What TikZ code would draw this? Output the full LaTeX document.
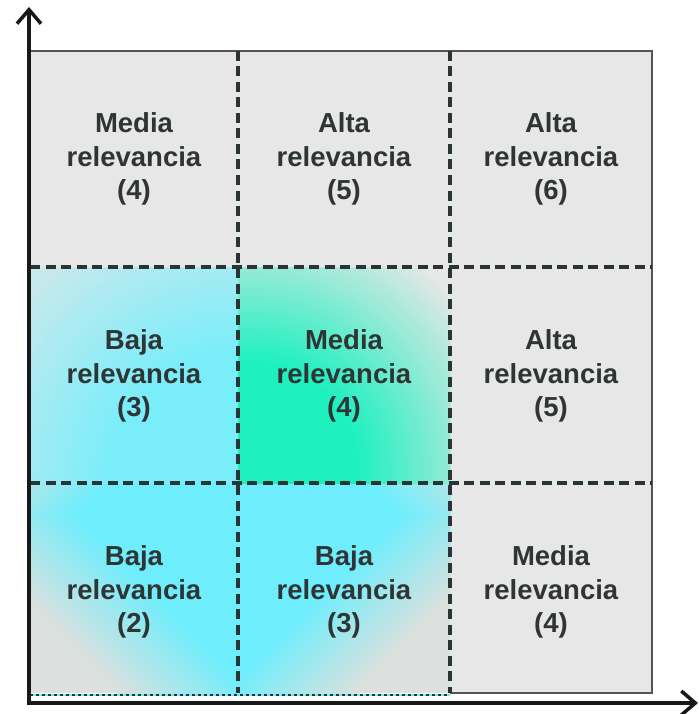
\documentclass[tikz,border=0pt]{standalone}
\usepackage{fontspec}
\setmainfont{Liberation Sans}
\usetikzlibrary{arrows.meta}
\definecolor{cellgray}{HTML}{E7E7E7}
\definecolor{lowgray}{HTML}{DCE0DE}
\definecolor{blobcyan}{HTML}{6EEEFC}
\definecolor{blobgreen}{HTML}{1EF0C0}
\definecolor{txtgray}{HTML}{2F3535}
\definecolor{linegray}{HTML}{555555}
\definecolor{dashgray}{HTML}{2B3434}
\tikzset{
  celltext/.style={align=center, text=txtgray, inner sep=0pt,
    font=\bfseries\fontsize{27.5}{33.5}\selectfont},
  gridline/.style={draw=dashgray, line width=3.2pt, dash pattern=on 10pt off 5.5pt},
  boxline/.style={draw=linegray, line width=1.8pt},
  axisline/.style={draw=black!90, line width=3.5pt, line join=miter,
    arrows={Straight Barb[length=14pt,width=24pt]-Straight Barb[length=14pt,width=24pt]}},
}
\begin{document}
\begin{tikzpicture}[x=1pt,y=-1pt]
\useasboundingbox (0,0) rectangle (698,714);
% background
\fill[white] (0,0) rectangle (698,714);
\fill[cellgray] (30,51) rectangle (652,693);
\fill[lowgray] (30,483) rectangle (450,693);
% cyan blob, lower row
\begin{scope}
  \clip (30,483) rectangle (450,693);
  \foreach \k in {0,...,34} {
    \pgfmathtruncatemacro\r{300-4*\k}
    \pgfmathtruncatemacro\p{100*\k/34}
    \fill[blobcyan!\p!lowgray] (238,515-\r) -- (238+\r,515) -- (238,515+\r) -- (238-\r,515) -- cycle;
  }
\end{scope}
% cyan blob, upper-left cell
\begin{scope}
  \clip (30,267) rectangle (238,483);
  \foreach \k in {0,...,36} {
    \pgfmathtruncatemacro\r{350-6*\k}
    \pgfmathtruncatemacro\p{90*\k/36}
    \fill[blobcyan!\p!cellgray] (238,483) circle (\r);
  }
\end{scope}
% green blob, centre cell
\begin{scope}
  \clip (238,267) rectangle (450,483);
  \foreach \k in {0,...,40} {
    \pgfmathtruncatemacro\r{270-4*\k}
    \pgfmathtruncatemacro\p{100*\k/40}
    \fill[blobgreen!\p!cellgray] (250,470) circle (\r);
  }
\end{scope}
% outer border
\draw[boxline] (450,693) -- (652,693) -- (652,51) -- (30,51);
\draw[blobcyan, line width=2pt] (30,695) -- (450,695);
\draw[dashgray, line width=2pt, dash pattern=on 3pt off 3pt] (30,695) -- (450,695);
% grid
\coordinate (vt1) at (238,51);  \coordinate (vb1) at (238,693);
\coordinate (vt2) at (450,51);  \coordinate (vb2) at (450,693);
\coordinate (hl1) at (30,267);  \coordinate (hr1) at (652,267);
\coordinate (hl2) at (30,483);  \coordinate (hr2) at (652,483);
\draw[gridline] (vt1) -- (vb1);
\draw[gridline] (vt2) -- (vb2);
\draw[gridline] (hl1) -- (hr1);
\draw[gridline] (hl2) -- (hr2);
% axes
\coordinate (ytop) at (29,7);
\coordinate (origin) at (29,703);
\coordinate (xend) at (698,703);
\draw[axisline] (ytop) -- (origin) -- (xend);
% texts
\node[celltext] (c11) at (134,159) {Media\\relevancia\\(4)};
\node[celltext] (c12) at (344,159) {Alta\\relevancia\\(5)};
\node[celltext] (c13) at (551,159) {Alta\\relevancia\\(6)};
\node[celltext] (c21) at (134,376) {Baja\\relevancia\\(3)};
\node[celltext] (c22) at (344,376) {Media\\relevancia\\(4)};
\node[celltext] (c23) at (551,376) {Alta\\relevancia\\(5)};
\node[celltext] (c31) at (134,592) {Baja\\relevancia\\(2)};
\node[celltext] (c32) at (344,592) {Baja\\relevancia\\(3)};
\node[celltext] (c33) at (551,592) {Media\\relevancia\\(4)};
\end{tikzpicture}
\end{document}
